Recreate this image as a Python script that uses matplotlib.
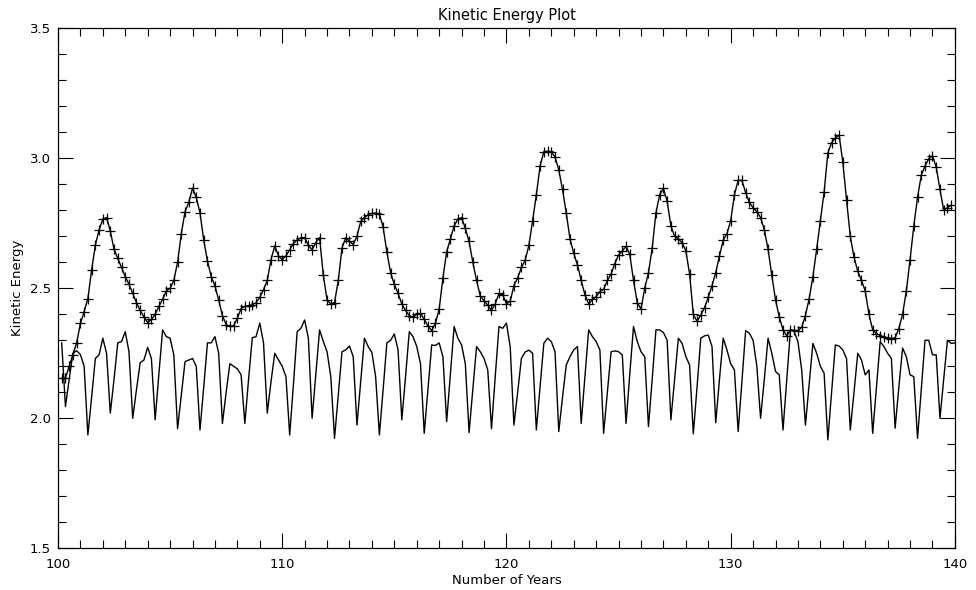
import numpy as np
import matplotlib
matplotlib.use("Agg")
import matplotlib.pyplot as plt
from matplotlib.ticker import MultipleLocator

# sampling: every 2 months (6 per year), starting at 100 + 1/6
steps_per_year = 6
start_year = 100

# upper curve (with + markers), one row per year
ke_upper = [
    2.154, 2.155, 2.200, 2.245, 2.290, 2.365,   # 100
    2.410, 2.460, 2.570, 2.665, 2.725, 2.765,   # 101
    2.772, 2.720, 2.650, 2.615, 2.580, 2.545,   # 102
    2.515, 2.480, 2.445, 2.415, 2.390, 2.368,   # 103
    2.380, 2.400, 2.430, 2.458, 2.490, 2.500,   # 104
    2.530, 2.600, 2.710, 2.795, 2.830, 2.885,   # 105
    2.850, 2.790, 2.685, 2.605, 2.545, 2.510,   # 106
    2.455, 2.395, 2.360, 2.353, 2.356, 2.385,   # 107
    2.422, 2.431, 2.433, 2.437, 2.444, 2.465,   # 108
    2.495, 2.530, 2.610, 2.663, 2.625, 2.610,   # 109
    2.625, 2.648, 2.672, 2.686, 2.694, 2.695,   # 110
    2.665, 2.648, 2.676, 2.694, 2.550, 2.455,   # 111
    2.440, 2.445, 2.530, 2.655, 2.695, 2.680,   # 112
    2.668, 2.700, 2.757, 2.772, 2.783, 2.788,   # 113
    2.789, 2.786, 2.735, 2.640, 2.560, 2.515,   # 114
    2.480, 2.440, 2.415, 2.395, 2.388, 2.400,   # 115
    2.404, 2.380, 2.355, 2.337, 2.365, 2.420,   # 116
    2.540, 2.640, 2.690, 2.740, 2.765, 2.772,   # 117
    2.730, 2.680, 2.600, 2.530, 2.470, 2.452,   # 118
    2.435, 2.415, 2.440, 2.480, 2.475, 2.440,   # 119
    2.450, 2.510, 2.540, 2.580, 2.607, 2.665,   # 120
    2.760, 2.860, 2.970, 3.025, 3.027, 3.025,   # 121
    3.005, 2.955, 2.880, 2.790, 2.690, 2.635,   # 122
    2.590, 2.530, 2.475, 2.440, 2.457, 2.468,   # 123
    2.487, 2.496, 2.530, 2.555, 2.595, 2.628,   # 124
    2.643, 2.662, 2.630, 2.530, 2.445, 2.420,   # 125
    2.500, 2.560, 2.655, 2.790, 2.860, 2.884,   # 126
    2.835, 2.740, 2.700, 2.690, 2.675, 2.645,   # 127
    2.555, 2.400, 2.373, 2.397, 2.425, 2.465,   # 128
    2.510, 2.560, 2.625, 2.685, 2.710, 2.760,   # 129
    2.860, 2.915, 2.915, 2.868, 2.830, 2.810,   # 130
    2.795, 2.772, 2.725, 2.650, 2.550, 2.455,   # 131
    2.390, 2.340, 2.317, 2.340, 2.338, 2.337,   # 132
    2.350, 2.395, 2.460, 2.545, 2.650, 2.760,   # 133
    2.870, 3.020, 3.060, 3.078, 3.090, 2.985,   # 134
    2.840, 2.700, 2.620, 2.565, 2.530, 2.490,   # 135
    2.400, 2.340, 2.326, 2.318, 2.314, 2.309,   # 136
    2.306, 2.310, 2.345, 2.400, 2.490, 2.610,   # 137
    2.740, 2.850, 2.935, 2.970, 2.998, 3.010,   # 138
    2.965, 2.880, 2.800, 2.810, 2.820,          # 139
]

# lower curve (plain line), one row per year
ke_lower = [
    2.290, 2.045, 2.150, 2.250, 2.260, 2.245,   # 100
    2.200, 1.936, 2.080, 2.230, 2.244, 2.308,   # 101
    2.250, 2.020, 2.150, 2.290, 2.295, 2.333,   # 102
    2.256, 2.000, 2.110, 2.214, 2.224, 2.273,   # 103
    2.230, 1.994, 2.170, 2.340, 2.314, 2.308,   # 104
    2.244, 1.960, 2.090, 2.218, 2.224, 2.230,   # 105
    2.200, 1.955, 2.120, 2.290, 2.290, 2.314,   # 106
    2.250, 1.980, 2.100, 2.210, 2.200, 2.190,   # 107
    2.167, 1.980, 2.150, 2.310, 2.314, 2.366,   # 108
    2.290, 2.020, 2.140, 2.250, 2.225, 2.200,   # 109
    2.160, 1.936, 2.130, 2.333, 2.346, 2.378,   # 110
    2.308, 2.000, 2.170, 2.340, 2.295, 2.256,   # 111
    2.160, 1.923, 2.090, 2.256, 2.263, 2.278,   # 112
    2.237, 1.974, 2.140, 2.308, 2.276, 2.253,   # 113
    2.160, 1.936, 2.110, 2.290, 2.300, 2.324,   # 114
    2.263, 1.994, 2.160, 2.333, 2.314, 2.276,   # 115
    2.210, 1.942, 2.110, 2.282, 2.280, 2.290,   # 116
    2.237, 1.987, 2.170, 2.353, 2.308, 2.282,   # 117
    2.210, 1.945, 2.110, 2.276, 2.256, 2.230,   # 118
    2.186, 1.960, 2.160, 2.353, 2.346, 2.366,   # 119
    2.276, 1.974, 2.100, 2.230, 2.255, 2.262,   # 120
    2.250, 1.955, 2.120, 2.288, 2.308, 2.295,   # 121
    2.256, 1.949, 2.080, 2.205, 2.237, 2.263,   # 122
    2.276, 1.980, 2.160, 2.340, 2.314, 2.295,   # 123
    2.263, 1.942, 2.100, 2.256, 2.259, 2.256,   # 124
    2.244, 1.980, 2.170, 2.353, 2.295, 2.256,   # 125
    2.237, 1.968, 2.150, 2.340, 2.340, 2.330,   # 126
    2.300, 1.994, 2.150, 2.308, 2.288, 2.237,   # 127
    2.205, 1.940, 2.120, 2.308, 2.317, 2.320,   # 128
    2.276, 1.983, 2.150, 2.308, 2.263, 2.210,   # 129
    2.186, 1.949, 2.140, 2.337, 2.327, 2.300,   # 130
    2.200, 2.000, 2.150, 2.308, 2.250, 2.180,   # 131
    2.167, 1.955, 2.150, 2.340, 2.333, 2.295,   # 132
    2.186, 1.974, 2.130, 2.288, 2.250, 2.200,   # 133
    2.173, 1.917, 2.100, 2.282, 2.278, 2.263,   # 134
    2.230, 1.955, 2.100, 2.250, 2.224, 2.167,   # 135
    2.186, 1.942, 2.120, 2.295, 2.276, 2.250,   # 136
    2.230, 1.962, 2.120, 2.270, 2.237, 2.167,   # 137
    2.160, 1.923, 2.110, 2.300, 2.300, 2.244,   # 138
    2.244, 2.000, 2.150, 2.300, 2.288, 2.290,   # 139
]

t_upper = start_year + np.arange(1, len(ke_upper) + 1) / steps_per_year
t_lower = start_year + np.arange(1, len(ke_lower) + 1) / steps_per_year

plt.rcParams['font.family'] = ['DejaVu Sans']
fig = plt.figure(figsize=(9.76, 5.90), dpi=100)
ax = fig.add_axes([0.0594, 0.0707, 0.919, 0.8814])

ax.plot(t_upper, ke_upper, color='black', lw=1.0, marker='+',
        markersize=7.5, markeredgewidth=0.9)
ax.plot(t_lower, ke_lower, color='black', lw=1.0)

ax.set_xlim(100, 140)
ax.set_ylim(1.5, 3.5)
ax.xaxis.set_major_locator(MultipleLocator(10))
ax.xaxis.set_minor_locator(MultipleLocator(1))
ax.yaxis.set_major_locator(MultipleLocator(0.5))
ax.yaxis.set_minor_locator(MultipleLocator(0.1))
ax.yaxis.set_major_formatter(matplotlib.ticker.FormatStrFormatter('%.1f'))
ax.tick_params(which='both', direction='in', top=True, right=True,
               width=0.8, labelsize=9.5, colors='black')
ax.tick_params(which='major', length=11)
ax.tick_params(which='minor', length=5.5)
ax.tick_params(axis='x', pad=7)
ax.tick_params(axis='y', pad=5)
for s in ax.spines.values():
    s.set_linewidth(0.9)

ax.set_title('Kinetic Energy Plot', fontsize=10.5, pad=6)
ax.set_xlabel('Number of Years', fontsize=9.5, labelpad=2)
ax.set_ylabel('Kinetic Energy', fontsize=9.5, labelpad=4)

fig.savefig('out.png', dpi=100)
